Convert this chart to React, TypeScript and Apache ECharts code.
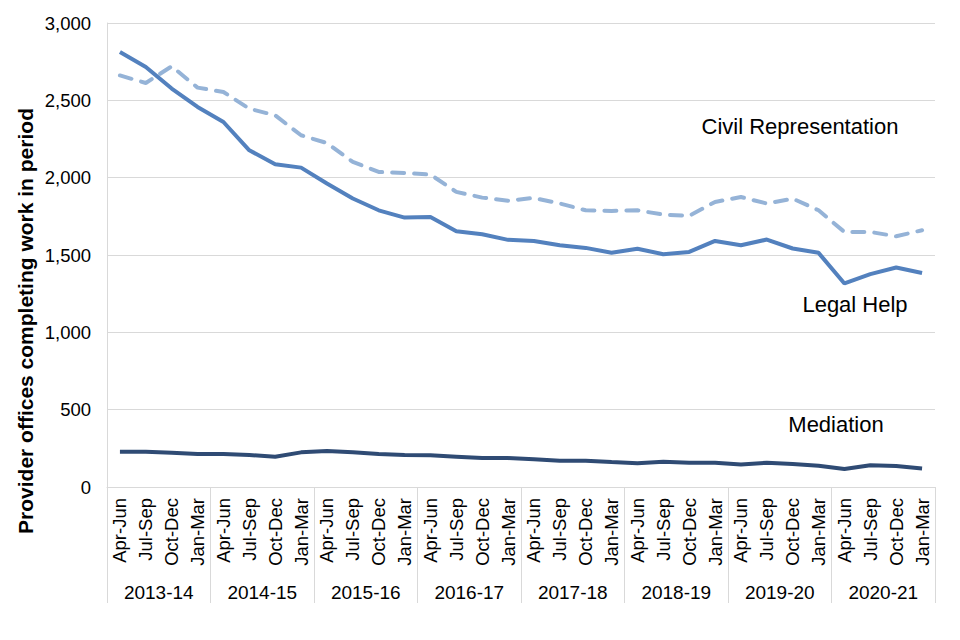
import React, { useEffect, useRef } from "react";
import * as echarts from "echarts";

const years = ["2013-14", "2014-15", "2015-16", "2016-17", "2017-18", "2018-19", "2019-20", "2020-21"];
const quarterNames = ["Apr-Jun", "Jul-Sep", "Oct-Dec", "Jan-Mar"];

const legalHelp = [2812, 2715, 2576, 2457, 2360, 2177, 2087, 2065, 1962, 1865, 1789, 1742, 1746, 1654, 1634, 1598,
  1591, 1563, 1546, 1514, 1540, 1505, 1520, 1591, 1563, 1600, 1542, 1514, 1316, 1376, 1419, 1384];
const civilRepresentation = [2661, 2612, 2720, 2582, 2554, 2446, 2403, 2274, 2224, 2102, 2037, 2030, 2020, 1908, 1871, 1851,
  1869, 1833, 1789, 1785, 1789, 1761, 1753, 1843, 1875, 1833, 1865, 1789, 1649, 1649, 1621, 1660];
const mediation = [228, 228, 221, 213, 213, 207, 196, 224, 232, 224, 213, 207, 205, 196, 187, 187,
  179, 170, 170, 161, 153, 164, 157, 157, 146, 157, 148, 138, 116, 140, 136, 120];

const yTicks = { min: 0, max: 3000, interval: 500 };
const yTitle = "Provider offices completing work in period";

const FONT = "'Liberation Sans', Arial, sans-serif";

export default function App() {
  const ref = useRef<HTMLDivElement>(null);
  useEffect(() => {
    if (!ref.current) return;
    const chart = echarts.init(ref.current, null, { renderer: "svg" });
    const categories: string[] = [];
    years.forEach(() => quarterNames.forEach((q) => categories.push(q)));
    const grid = { left: 107, right: 25, top: 23, bottom: 153 };
    chart.setOption({
      animation: false,
      backgroundColor: "#ffffff",
      textStyle: { fontFamily: FONT },
      grid,
      xAxis: [
        {
          type: "category",
          data: categories,
          boundaryGap: true,
          axisLine: { show: true, lineStyle: { color: "#D9D9D9", width: 1 } },
          axisTick: { show: false },
          axisLabel: { rotate: 90, interval: 0, margin: 11, fontSize: 18.5, color: "#000", fontFamily: FONT },
          splitLine: { show: false },
        },
        {
          type: "category",
          data: years,
          position: "bottom",
          boundaryGap: true,
          axisLine: { show: false },
          axisTick: { show: true, length: 116, lineStyle: { color: "#D9D9D9", width: 1 } },
          axisLabel: { margin: 96, fontSize: 19, color: "#000", fontFamily: FONT },
          splitLine: { show: false },
        },
      ],
      yAxis: {
        type: "value",
        min: yTicks.min,
        max: yTicks.max,
        interval: yTicks.interval,
        axisLine: { show: true, lineStyle: { color: "#D9D9D9", width: 1 } },
        axisTick: { show: false },
        axisLabel: {
          margin: 16,
          fontSize: 18.5,
          color: "#000",
          fontFamily: FONT,
          formatter: (v: number) => v.toLocaleString("en-GB"),
        },
        splitLine: { show: true, lineStyle: { color: "#D9D9D9", width: 1 } },
      },
      series: [
        {
          name: "Civil Representation",
          type: "line",
          data: civilRepresentation,
          symbol: "none",
          lineStyle: { color: "#95B3D7", width: 4, type: [12, 10], cap: "round" },
          itemStyle: { color: "#95B3D7" },
          z: 2,
        },
        {
          name: "Legal Help",
          type: "line",
          data: legalHelp,
          symbol: "none",
          lineStyle: { color: "#5381BE", width: 4 },
          itemStyle: { color: "#5381BE" },
          z: 3,
        },
        {
          name: "Mediation",
          type: "line",
          data: mediation,
          symbol: "none",
          lineStyle: { color: "#2F4B74", width: 4 },
          itemStyle: { color: "#2F4B74" },
          z: 3,
        },
      ],
      graphic: [
        {
          type: "text",
          x: 25,
          y: 321,
          rotation: Math.PI / 2,
          style: {
            text: yTitle,
            fontSize: 21,
            fontWeight: "bold",
            fontFamily: FONT,
            fill: "#000",
            align: "center",
            verticalAlign: "middle",
          },
        },
        {
          type: "text",
          x: 800,
          y: 126,
          style: { text: "Civil Representation", fontSize: 22, fontFamily: FONT, fill: "#000", align: "center", verticalAlign: "middle" },
        },
        {
          type: "text",
          x: 855,
          y: 304,
          style: { text: "Legal Help", fontSize: 22, fontFamily: FONT, fill: "#000", align: "center", verticalAlign: "middle" },
        },
        {
          type: "text",
          x: 836,
          y: 424,
          style: { text: "Mediation", fontSize: 22, fontFamily: FONT, fill: "#000", align: "center", verticalAlign: "middle" },
        },
      ],
    });
    return () => chart.dispose();
  }, []);
  return <div ref={ref} style={{ width: 960, height: 640, position: "absolute", left: 0, top: 0 }} />;
}
